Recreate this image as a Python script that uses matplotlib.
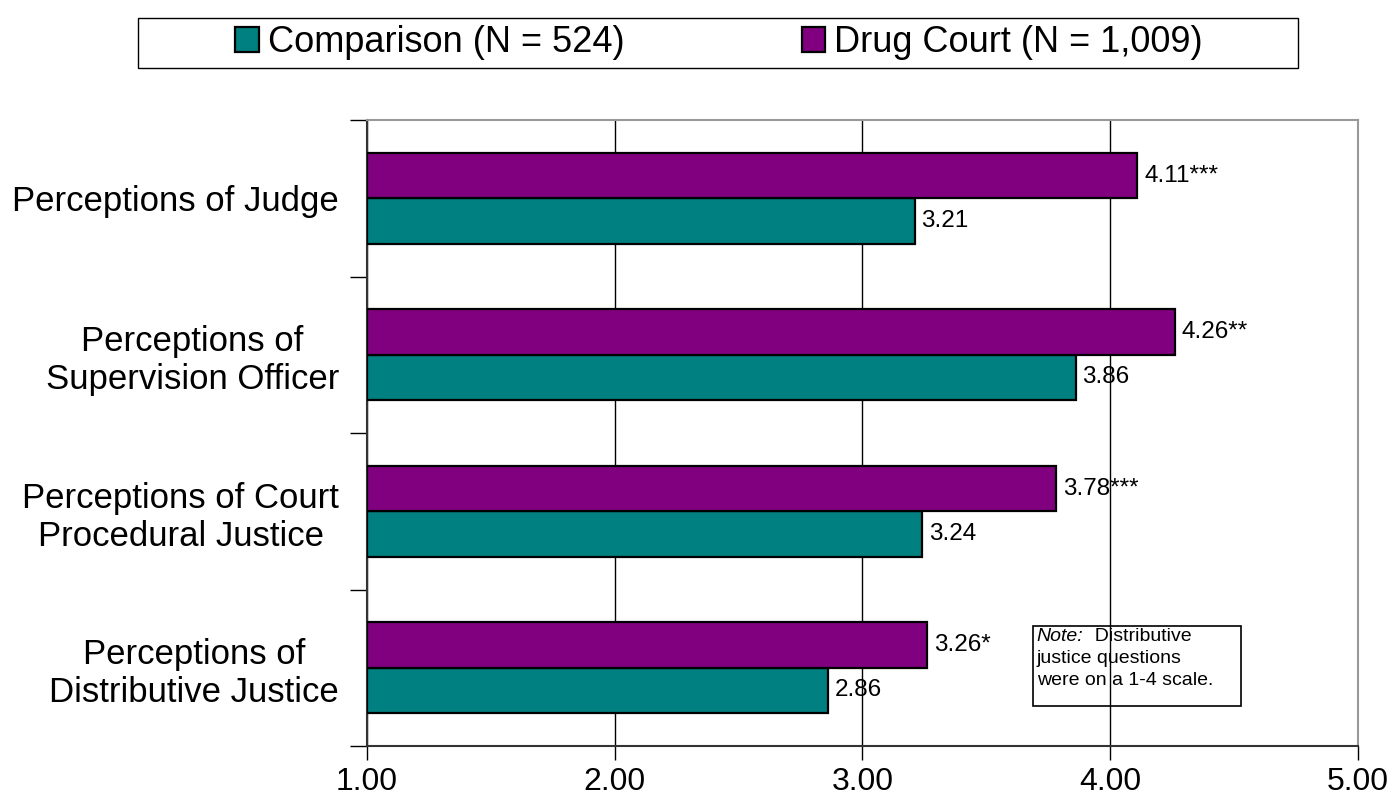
import matplotlib.pyplot as plt
from matplotlib.patches import Rectangle
import numpy as np

plt.rcParams['font.family'] = ['Liberation Sans', 'DejaVu Sans']

categories = ['Perceptions of Judge',
              'Perceptions of\nSupervision Officer',
              'Perceptions of Court\nProcedural Justice',
              'Perceptions of\nDistributive Justice']
comparison = [3.21, 3.86, 3.24, 2.86]
drug_court = [4.11, 4.26, 3.78, 3.26]
drug_court_sig = ['***', '**', '***', '*']
series_labels = ['Comparison (N = 524)', 'Drug Court (N = 1,009)']
x_ticks = [1, 2, 3, 4, 5]
note_lines = ['justice questions', 'were on a 1-4 scale.']

TEAL = '#008080'
PURPLE = '#800080'

fig = plt.figure(figsize=(14, 8.05), dpi=100)
ax = fig.add_axes([0.2621, 0.0733, 0.7079, 0.7776])

y = np.arange(len(categories))
h = 0.29
b1 = ax.barh(y + h / 2, [c - 1 for c in comparison], left=1, height=h,
             color=TEAL, edgecolor='black', linewidth=1.6, zorder=3,
             label=series_labels[0])
b2 = ax.barh(y - h / 2, [d - 1 for d in drug_court], left=1, height=h,
             color=PURPLE, edgecolor='black', linewidth=1.6, zorder=3,
             label=series_labels[1])

# etiquetas de valores
for yi, v in zip(y, comparison):
    ax.text(v + 0.028, yi + h / 2, f'{v:.2f}', va='center', ha='left',
            fontsize=17.5, zorder=4)
for yi, v, s in zip(y, drug_court, drug_court_sig):
    ax.text(v + 0.028, yi - h / 2, f'{v:.2f}{s}', va='center', ha='left',
            fontsize=17.5, zorder=4)

ax.set_xlim(1, 5)
ax.set_ylim(len(categories) - 0.5, -0.5)
ax.set_xticks(x_ticks)
ax.set_xticklabels([f'{t:.2f}' for t in x_ticks], fontsize=23)
ax.tick_params(axis='x', direction='out', length=10, width=1, pad=5)
ax.set_yticks(y)
ax.set_yticklabels(categories, fontsize=25, multialignment='center')
ax.tick_params(axis='y', length=0, pad=20)
ax.set_yticks(np.arange(-0.5, len(categories), 1), minor=True)
ax.tick_params(axis='y', which='minor', direction='out', length=12, width=1)

ax.grid(axis='x', color='black', linewidth=1, zorder=0)
for side in ['top', 'right']:
    ax.spines[side].set_color('#999999')
    ax.spines[side].set_linewidth(1.5)
for side in ['left', 'bottom']:
    ax.spines[side].set_color('#333333')
    ax.spines[side].set_linewidth(1.5)

# nota
ax.add_patch(Rectangle((3.688, 2.733), 4.528 - 3.688, 3.244 - 2.733,
                       facecolor='none', edgecolor='black', linewidth=1.2, zorder=5))
note = ax.text(3.704, 2.746, 'Note:', style='italic', fontsize=14,
               va='top', ha='left', zorder=6)
ax.annotate('  Distributive', xy=(1, 1), xycoords=note, va='top', ha='left',
            fontsize=14, zorder=6)
ax.text(3.704, 2.886, note_lines[0], fontsize=14, va='top', ha='left', zorder=6)
ax.text(3.704, 3.027, note_lines[1], fontsize=14, va='top', ha='left', zorder=6)

# leyenda
fig.patches.append(Rectangle((138 / 1400, 1 - 68 / 805), 1160 / 1400, 50 / 805,
                             transform=fig.transFigure, facecolor='white',
                             edgecolor='black', linewidth=1))
fig.legend(handles=[b1, b2], labels=series_labels, loc='center',
           bbox_to_anchor=(0.5136, 0.947), ncol=2, fontsize=26,
           frameon=False, handlelength=0.65, handleheight=0.65,
           handletextpad=0.25, columnspacing=4.9)

fig.savefig('out.png', dpi=100)
